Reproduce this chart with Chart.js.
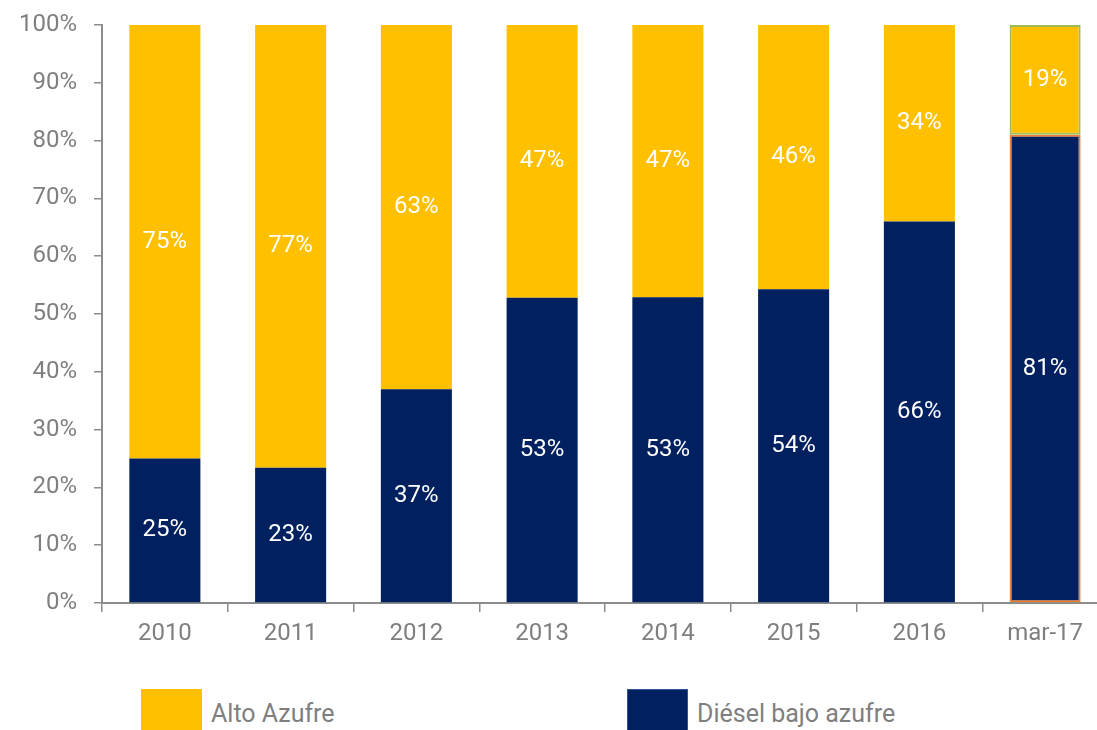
<!DOCTYPE html>
<html>
<head>
<meta charset="utf-8">
<script src="https://cdn.jsdelivr.net/npm/chart.js@4.4.0/dist/chart.umd.min.js"></script>
<style>
  html, body { margin: 0; padding: 0; background: #fff; overflow: hidden; }
  #wrap { position: relative; width: 1108px; height: 730px; }
  #chartBox { position: absolute; left: 0; top: 0; width: 1108px; height: 660px; }
  .leg { position: absolute; top: 689px; height: 60px; font-family: Roboto, sans-serif; font-size: 25px; color: #7f7f7f; }
  .leg .box { position: absolute; left: 0; top: 0; width: 61px; height: 60px; }
  .leg .txt { position: absolute; left: 70px; top: 10px; white-space: nowrap; }
</style>
</head>
<body>
<div id="wrap">
  <div id="chartBox"><canvas id="myChart"></canvas></div>
  <div class="leg" style="left:141px"><div class="box" style="background:#FFC000"></div><div class="txt">Alto Azufre</div></div>
  <div class="leg" style="left:627px"><div class="box" style="background:#002060;border:1px solid #2F5597;box-sizing:border-box"></div><div class="txt">Diésel bajo azufre</div></div>
</div>
<script>
const years = ['2010', '2011', '2012', '2013', '2014', '2015', '2016', 'mar-17'];
const dieselBajo = [25, 23.4, 37, 52.8, 52.9, 54.3, 66, 81];
const altoAzufre = [75, 76.6, 63, 47.2, 47.1, 45.7, 34, 19];
const yTicks = [0, 10, 20, 30, 40, 50, 60, 70, 80, 90, 100];

const ctx = document.getElementById('myChart');

// etiquetas centradas dentro de cada segmento
var barLabels = {
  id: 'barLabels',
  afterDatasetsDraw: function(chart) {
    var c = chart.ctx;
    c.save();
    c.fillStyle = '#ffffff';
    c.font = '24px Roboto, sans-serif';
    c.textAlign = 'center';
    c.textBaseline = 'middle';
    chart.data.datasets.forEach(function(ds, i) {
      chart.getDatasetMeta(i).data.forEach(function(bar, j) {
        var mid = (bar.y + bar.base) / 2;
        c.fillText(Math.round(ds.data[j]) + '%', bar.x, mid);
      });
    });
    c.restore();
  }
};

var graphData = {
  type: 'bar',
  data: {
    labels: years,
    datasets: [
      {
        label: 'Diésel bajo azufre',
        data: dieselBajo,
        backgroundColor: '#002060',
        borderColor: ['#002060', '#002060', '#002060', '#002060', '#002060', '#002060', '#002060', '#ED7D31'],
        borderWidth: [0, 0, 0, 0, 0, 0, 0, 2],
        borderSkipped: false,
        barPercentage: 0.565,
        categoryPercentage: 1,
      },
      {
        label: 'Alto Azufre',
        data: altoAzufre,
        backgroundColor: '#FFC000',
        borderColor: ['#FFC000', '#FFC000', '#FFC000', '#FFC000', '#FFC000', '#FFC000', '#FFC000', '#9BBB59'],
        borderWidth: [0, 0, 0, 0, 0, 0, 0, 2],
        borderSkipped: false,
        barPercentage: 0.565,
        categoryPercentage: 1,
      },
    ]
  },
  options: {
    animation: false,
    responsive: true,
    maintainAspectRatio: false,
    layout: { padding: { top: 25, right: 0, bottom: 0, left: 0 } },
    plugins: {
      legend: { display: false },
      tooltip: { enabled: false },
    },
    scales: {
      x: {
        stacked: true,
        afterFit: function(s) { s.height = 57; s.paddingLeft = 0; s.paddingRight = 0; },
        grid: {
          offset: true,
          drawOnChartArea: false,
          drawTicks: true,
          tickLength: 9,
          color: '#8c8c8c',
          lineWidth: 1.5,
        },
        border: { display: true, color: '#8c8c8c', width: 2 },
        ticks: {
          color: '#7f7f7f',
          padding: 8,
          font: { family: 'Roboto, sans-serif', size: 24 },
        },
      },
      y: {
        stacked: true,
        min: 0,
        max: 100,
        afterFit: function(s) { s.width = 102; s.paddingTop = 0; s.paddingBottom = 0; },
        afterBuildTicks: function(s) { s.ticks = yTicks.map(function(v) { return { value: v }; }); },
        grid: {
          drawOnChartArea: false,
          drawTicks: true,
          tickLength: 8,
          color: '#8c8c8c',
          lineWidth: 1.5,
        },
        border: { display: true, color: '#8c8c8c', width: 2 },
        ticks: {
          color: '#7f7f7f',
          padding: 17,
          font: { family: 'Roboto, sans-serif', size: 24 },
          callback: function(v) { return v + '%'; },
        },
      },
    }
  },
  plugins: [barLabels]
};

var myChart = new Chart(ctx, graphData);
</script>
</body>
</html>
